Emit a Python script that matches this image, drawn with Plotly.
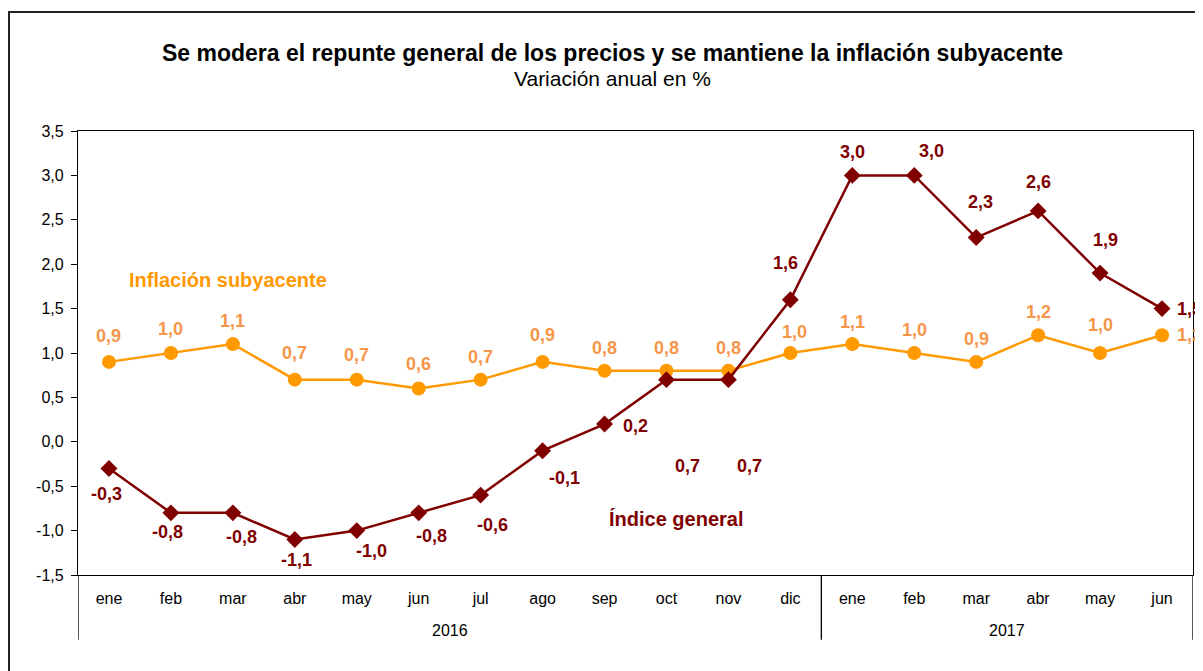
import numpy as np
import plotly.graph_objs as go

# data
months = ['ene', 'feb', 'mar', 'abr', 'may', 'jun', 'jul', 'ago', 'sep', 'oct', 'nov', 'dic',
          'ene', 'feb', 'mar', 'abr', 'may', 'jun']
years = ['2016'] * 12 + ['2017'] * 6
indice_general = [-0.3, -0.8, -0.8, -1.1, -1.0, -0.8, -0.6, -0.1, 0.2, 0.7, 0.7, 1.6,
                  3.0, 3.0, 2.3, 2.6, 1.9, 1.5]
subyacente = [0.9, 1.0, 1.1, 0.7, 0.7, 0.6, 0.7, 0.9, 0.8, 0.8, 0.8, 1.0,
              1.1, 1.0, 0.9, 1.2, 1.0, 1.2]

# label offsets in px (dx right, dy down) - like the hand placed excel labels
gen_offsets = [(-2, 26), (-3, 19), (9, 24), (2, 21), (15, 20), (13, 23), (12, 30), (22, 27),
               (31, 2), (21, 86), (21, 86), (-5, -37), (0, -23), (17, -24), (4, -36),
               (0, -29), (5, -33), (27, 0)]
sub_offsets = [(0, -26), (0, -24), (0, -23), (0, -27), (0, -25), (0, -25), (0, -23), (0, -27),
               (0, -23), (0, -23), (0, -23), (4, -21), (0, -22), (0, -23), (0, -23),
               (0, -23), (0, -28), (27, 0)]

GEN_COLOR = '#800000'
SUB_COLOR = '#FF9900'
SUB_LABEL_COLOR = '#F5964A'
FONT = 'Liberation Sans, Arial, sans-serif'

Y_MIN, Y_MAX = -1.5, 3.5


def fmt(v):
    return f'{v:.1f}'.replace('.', ',')


x = list(range(len(months)))
xrange_ = [-0.5, len(months) - 0.5]

fig = go.Figure()

fig.add_trace(go.Scatter(
    x=x, y=subyacente, mode='lines+markers',
    line=dict(color=SUB_COLOR, width=2.5),
    marker=dict(symbol='circle', size=14, color=SUB_COLOR),
    name='Inflación subyacente',
))
fig.add_trace(go.Scatter(
    x=x, y=indice_general, mode='lines+markers',
    line=dict(color=GEN_COLOR, width=2.5),
    marker=dict(symbol='diamond', size=13, color=GEN_COLOR),
    name='Índice general',
))

annotations = []
for i, v in enumerate(indice_general):
    dx, dy = gen_offsets[i]
    annotations.append(dict(x=i, y=v, xref='x', yref='y', text=fmt(v), showarrow=False,
                            xshift=dx, yshift=-dy, xanchor='center', yanchor='middle',
                            font=dict(family=FONT, size=18, color=GEN_COLOR, weight='bold')))
for i, v in enumerate(subyacente):
    dx, dy = sub_offsets[i]
    annotations.append(dict(x=i, y=v, xref='x', yref='y', text=fmt(v), showarrow=False,
                            xshift=dx, yshift=-dy, xanchor='center', yanchor='middle',
                            font=dict(family=FONT, size=18, color=SUB_LABEL_COLOR, weight='bold')))


def paper_note(px, py, text, **font):
    return dict(x=px, y=py, xref='paper', yref='paper', text=text, showarrow=False,
                xanchor='center', yanchor='middle', font=dict(family=FONT, **font))


# series names inside the plot
annotations.append(paper_note(0.1345, 0.664, 'Inflación subyacente', size=20, color=SUB_COLOR, weight='bold'))
annotations.append(paper_note(0.537, 0.126, 'Índice general', size=20, color=GEN_COLOR, weight='bold'))

# title + subtitle
annotations.append(paper_note(0.479, 1.176,
                              'Se modera el repunte general de los precios y se mantiene la inflación subyacente',
                              size=23, color='black', weight='bold'))
annotations.append(paper_note(0.479, 1.119, 'Variación anual en %', size=21, color='black'))

# year labels + dividers
shapes = []
start = 0
bounds = [-0.5]
for yr in dict.fromkeys(years):
    n = years.count(yr)
    annotations.append(dict(x=start + (n - 1) / 2, y=-0.124, xref='x', yref='paper', text=yr,
                            showarrow=False, xanchor='center', yanchor='middle',
                            font=dict(family=FONT, size=16, color='black')))
    start += n
    bounds.append(start - 0.5)
for b in bounds:
    shapes.append(dict(type='line', xref='x', yref='paper', x0=b, x1=b, y0=0, y1=-0.146,
                       line=dict(color='black', width=1.3)))

# outer frame of the chart (right and bottom sides fall off the picture)
shapes.append(dict(type='rect', xref='paper', yref='paper', x0=-0.0619, x1=1.2, y0=-0.5, y1=1.268,
                   line=dict(color='#222222', width=2), layer='below'))

yticks = np.arange(Y_MIN, Y_MAX + 0.01, 0.5)

# the page body has an 8px margin, so the figure is 8px smaller than the window
fig.update_layout(
    width=1195,
    height=663,
    margin=dict(l=70, r=10, t=123, b=96),
    plot_bgcolor='white',
    paper_bgcolor='white',
    showlegend=False,
    font=dict(family=FONT, size=15, color='black'),
    annotations=annotations,
    shapes=shapes,
    xaxis=dict(
        range=xrange_,
        tickmode='array',
        tickvals=x,
        ticktext=months,
        ticks='',
        ticklabelstandoff=9,
        showgrid=False,
        zeroline=False,
        showline=True,
        mirror=True,
        linecolor='black',
        linewidth=1.3,
        tickfont=dict(family=FONT, size=16, color='black'),
    ),
    # zero line with small ticks between months
    xaxis2=dict(
        overlaying='x',
        anchor='free',
        position=(0 - Y_MIN) / (Y_MAX - Y_MIN),
        range=xrange_,
        tick0=0.5,
        dtick=1,
        ticks='outside',
        ticklen=5,
        tickcolor='black',
        showticklabels=False,
        showgrid=False,
        zeroline=False,
        showline=True,
        linecolor='black',
        linewidth=1.3,
    ),
    # month boxes at the bottom
    xaxis3=dict(
        overlaying='x',
        anchor='y',
        side='bottom',
        range=xrange_,
        tick0=0.5,
        dtick=1,
        ticks='outside',
        ticklen=32,
        tickwidth=1.3,
        tickcolor='black',
        showticklabels=False,
        showgrid=False,
        zeroline=False,
        showline=False,
    ),
    yaxis=dict(
        range=[Y_MIN, Y_MAX],
        tickmode='array',
        tickvals=yticks,
        ticktext=[fmt(v) for v in yticks],
        ticks='outside',
        ticklen=6,
        ticklabelstandoff=4,
        tickcolor='black',
        showgrid=False,
        zeroline=False,
        showline=True,
        mirror=True,
        linecolor='black',
        linewidth=1.3,
        tickfont=dict(family=FONT, size=16, color='black'),
    ),
)

fig.write_html('out.html')
